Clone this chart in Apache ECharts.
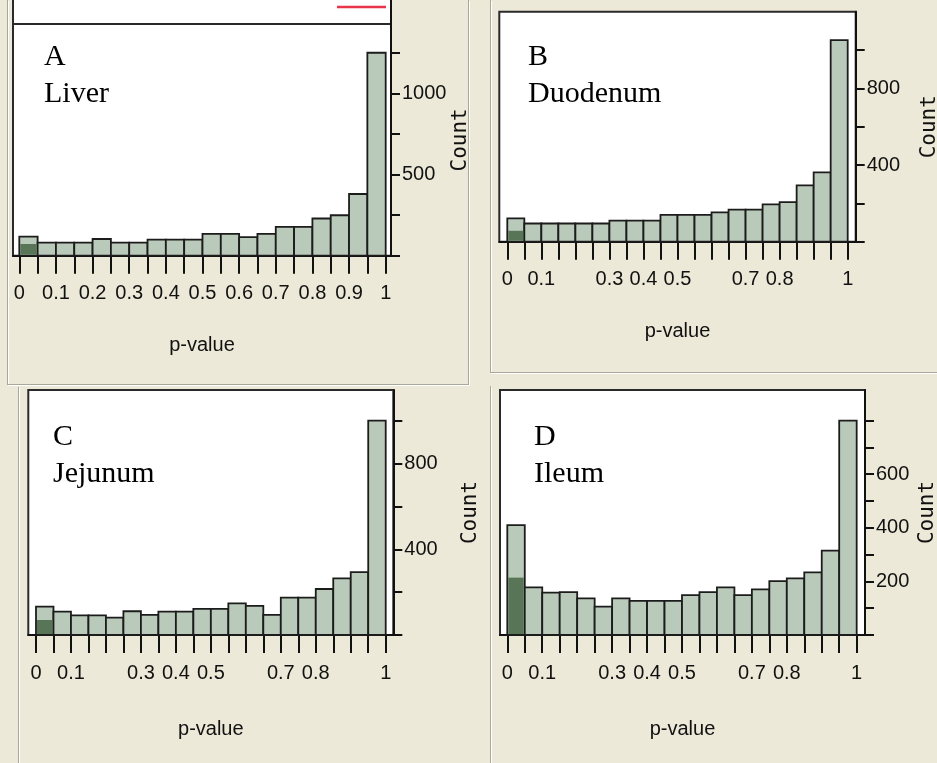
<!DOCTYPE html>
<html>
<head>
<meta charset="utf-8">
<script src="https://cdn.jsdelivr.net/npm/echarts@6/dist/echarts.min.js"></script>
<style>
    html, body { margin: 0; padding: 0; background: #ECE9D8; }
    #main { width: 937px; height: 763px; }
</style>
</head>
<body>
<div id="main"></div>
<script>
// bin edges of the p-value histograms (20 bins of 0.05)
var binEdges = [0, 0.05, 0.1, 0.15, 0.2, 0.25, 0.3, 0.35, 0.4, 0.45, 0.5, 0.55, 0.6, 0.65, 0.7, 0.75, 0.8, 0.85, 0.9, 0.95, 1];

// counts per bin
var liverCounts = [117, 81, 80, 80, 103, 80, 80, 99, 99, 99, 135, 135, 115, 135, 177, 177, 229, 249, 380, 1250];
var duodenumCounts = [122, 95, 95, 95, 95, 95, 110, 110, 110, 140, 140, 140, 153, 167, 167, 195, 207, 294, 362, 1052];
var jejunumCounts = [133, 109, 92, 92, 81, 111, 94, 109, 109, 122, 122, 148, 136, 94, 175, 175, 215, 265, 294, 1002];
var ileumCounts = [410, 178, 158, 160, 137, 106, 137, 127, 127, 127, 149, 160, 178, 149, 170, 201, 211, 234, 315, 800];

// highlighted (dark) part of the first bin
var liverSig = [72];
var duodenumSig = [57];
var jejunumSig = [70];
var ileumSig = [214];

// tick labels
var xLabelsFull = [0, 0.1, 0.2, 0.3, 0.4, 0.5, 0.6, 0.7, 0.8, 0.9, 1];
var xLabelsShort = [0, 0.1, 0.3, 0.4, 0.5, 0.7, 0.8, 1];
var liverTicks = [0, 250, 500, 750, 1000, 1250];
var liverLabels = [500, 1000];
var duodenumTicks = [0, 200, 400, 600, 800, 1000];
var duodenumLabels = [400, 800];
var jejunumTicks = [0, 200, 400, 600, 800, 1000];
var jejunumLabels = [400, 800];
var ileumTicks = [0, 100, 200, 300, 400, 500, 600, 700, 800];
var ileumLabels = [200, 400, 600];

var panelLetters = ['A', 'B', 'C', 'D'];
var panelNames = ['Liver', 'Duodenum', 'Jejunum', 'Ileum'];

var tickFont = '"Liberation Sans", Arial, sans-serif';
var barFill = '#bacaba';
var sigFill = '#587558';
var edgeColor = '#1c1c1c';

var panels = [
    { grid: { left: 13, top: 24, width: 378, height: 231.7 }, xMin: -0.0172, xMax: 1.0145, yMax: 1427,
      counts: liverCounts, sig: liverSig, yTicks: liverTicks, yLabels: liverLabels, xLabels: xLabelsFull, pGap: 80, cGap: 46,
      textX: 44, textY: 57 },
    { grid: { left: 499.3, top: 11.7, width: 356.4, height: 230 }, xMin: -0.0235, xMax: 1.0235, yMax: 1200,
      counts: duodenumCounts, sig: duodenumSig, yTicks: duodenumTicks, yLabels: duodenumLabels, xLabels: xLabelsShort, pGap: 80, cGap: 63,
      textX: 528, textY: 57 },
    { grid: { left: 28.3, top: 390, width: 365, height: 245 }, xMin: -0.022, xMax: 1.0217, yMax: 1145,
      counts: jejunumCounts, sig: jejunumSig, yTicks: jejunumTicks, yLabels: jejunumLabels, xLabels: xLabelsShort, pGap: 84, cGap: 67,
      textX: 53, textY: 437 },
    { grid: { left: 500, top: 390, width: 365, height: 245 }, xMin: -0.0209, xMax: 1.0238, yMax: 914,
      counts: ileumCounts, sig: ileumSig, yTicks: ileumTicks, yLabels: ileumLabels, xLabels: xLabelsShort, pGap: 84, cGap: 52,
      textX: 534, textY: 437 }
];

function binData(counts) {
    var rows = [];
    for (var i = 0; i < counts.length; i++) {
        rows.push([binEdges[i], binEdges[i + 1], counts[i]]);
    }
    return rows;
}

function renderBar(params, api) {
    var p0 = api.coord([api.value(0), 0]);
    var p1 = api.coord([api.value(1), api.value(2)]);
    return {
        type: 'rect',
        shape: { x: p0[0], y: p1[1], width: p1[0] - p0[0], height: p0[1] - p1[1] },
        style: { fill: barFill, stroke: edgeColor, lineWidth: 1.8 }
    };
}

function renderSig(params, api) {
    var p0 = api.coord([api.value(0), 0]);
    var p1 = api.coord([api.value(1), api.value(2)]);
    return {
        type: 'rect',
        shape: { x: p0[0] + 1, y: p1[1], width: p1[0] - p0[0] - 2, height: p0[1] - p1[1] - 1 },
        style: { fill: sigFill }
    };
}

function fmtX(v) {
    return String(Math.round(v * 100) / 100);
}

function fmtY(v) {
    return String(v);
}

var grids = [], xAxes = [], yAxes = [], series = [], graphics = [];

for (var k = 0; k < panels.length; k++) {
    var p = panels[k];
    grids.push({
        left: p.grid.left, top: p.grid.top, width: p.grid.width, height: p.grid.height,
        outerBoundsMode: 'none', containLabel: false,
        show: true, backgroundColor: '#ffffff', borderColor: '#2a2a2a', borderWidth: 2
    });
    xAxes.push({
        gridIndex: k, type: 'value', min: p.xMin, max: p.xMax,
        name: 'p-value', nameLocation: 'middle', nameGap: p.pGap,
        nameTextStyle: { fontFamily: tickFont, fontSize: 20, color: '#111' },
        axisLine: { show: true, onZero: false, lineStyle: { color: '#111', width: 2 } },
        axisTick: { show: true, length: 18, customValues: binEdges, lineStyle: { color: '#111', width: 2 } },
        axisLabel: { customValues: p.xLabels, formatter: fmtX, margin: 28, fontFamily: tickFont, fontSize: 20, color: '#111' },
        splitLine: { show: false }
    });
    yAxes.push({
        gridIndex: k, type: 'value', position: 'right', min: 0, max: p.yMax,
        name: 'Count', nameLocation: 'middle', nameRotate: 90, nameGap: p.cGap,
        nameTextStyle: { fontFamily: '"DejaVu Sans Mono", monospace', fontSize: 21, color: '#111' },
        axisLine: { show: true, onZero: false, lineStyle: { color: '#111', width: 2 } },
        axisTick: { show: true, length: 9, customValues: p.yTicks, lineStyle: { color: '#111', width: 2 } },
        axisLabel: { customValues: p.yLabels, formatter: fmtY, margin: 11, fontFamily: tickFont, fontSize: 20, color: '#111' },
        splitLine: { show: false }
    });
    series.push({
        type: 'custom', xAxisIndex: k, yAxisIndex: k, renderItem: renderBar,
        encode: { x: [0, 1], y: 2 }, data: binData(p.counts), z: 2
    });
    series.push({
        type: 'custom', xAxisIndex: k, yAxisIndex: k, renderItem: renderSig,
        encode: { x: [0, 1], y: 2 }, data: binData(p.sig), z: 3
    });
    graphics.push({ type: 'text', x: p.textX, y: p.textY,
        style: { text: panelLetters[k], font: '30px "Liberation Serif", serif', fill: '#000', verticalAlign: 'middle' } });
    graphics.push({ type: 'text', x: p.textX, y: p.textY + 37,
        style: { text: panelNames[k], font: '30px "Liberation Serif", serif', fill: '#000', verticalAlign: 'middle' } });
}

// panel borders (beveled look)
var bevel = [
    [7.5, 0, 7.5, 384], [7, 384.5, 469, 384.5], [468.5, 0, 468.5, 384],
    [490.5, 0, 490.5, 372], [490, 372.5, 937, 372.5],
    [18.5, 387, 18.5, 763], [490.5, 386, 490.5, 763]
];
for (var b = 0; b < bevel.length; b++) {
    var l = bevel[b];
    graphics.push({ type: 'line', shape: { x1: l[0], y1: l[1], x2: l[2], y2: l[3] }, style: { stroke: '#a9a798', lineWidth: 1 }, z: -10 });
    graphics.push({ type: 'line', shape: { x1: l[0] + 1, y1: l[1] + 1, x2: l[2] + 1, y2: l[3] + 1 }, style: { stroke: '#ffffff', lineWidth: 1 }, z: -10 });
}

// top strip of panel A above its frame
graphics.push({ type: 'rect', shape: { x: 13, y: 0, width: 378, height: 24 }, style: { fill: '#ffffff' }, z: -5 });
graphics.push({ type: 'line', shape: { x1: 13, y1: 0, x2: 13, y2: 24 }, style: { stroke: '#2a2a2a', lineWidth: 2 } });
graphics.push({ type: 'line', shape: { x1: 391, y1: 0, x2: 391, y2: 24 }, style: { stroke: '#111', lineWidth: 2 } });
graphics.push({ type: 'line', shape: { x1: 337, y1: 7, x2: 386, y2: 7 }, style: { stroke: '#e8354a', lineWidth: 2.5 } });

var myChart = echarts.init(document.getElementById('main'));
myChart.setOption({
    backgroundColor: '#ECE9D8',
    animation: false,
    grid: grids,
    xAxis: xAxes,
    yAxis: yAxes,
    series: series,
    graphic: graphics
});
</script>
</body>
</html>
